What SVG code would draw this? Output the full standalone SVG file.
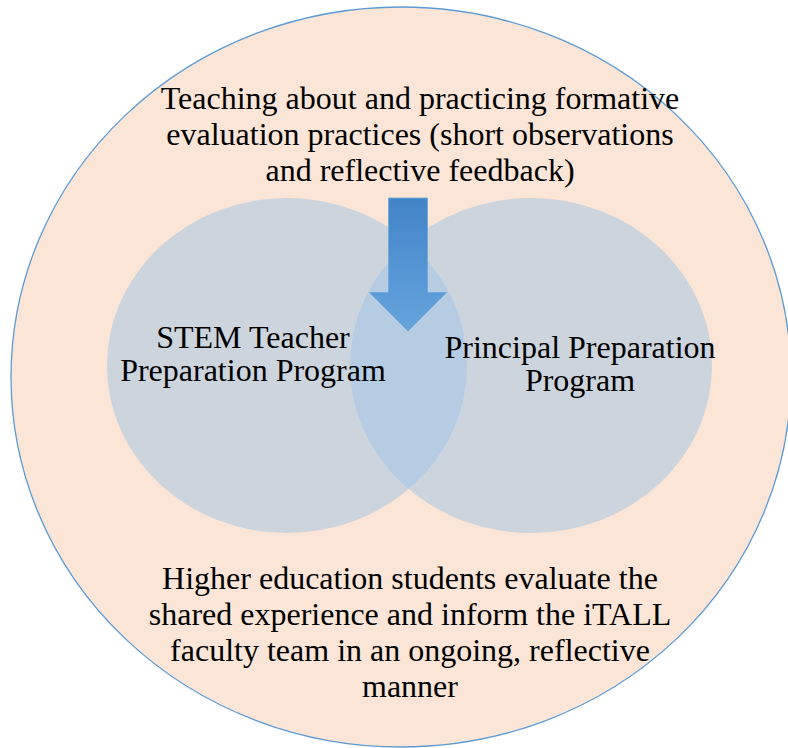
<svg xmlns="http://www.w3.org/2000/svg" width="788" height="748" viewBox="0 0 788 748">
<defs>
<style>
.t{font-family:"Liberation Serif","Times New Roman",serif;font-size:32px;fill:#000;text-anchor:middle}
.set{fill:#9DC3E6;fill-opacity:0.5}
</style>
<linearGradient id="ag" x1="0" y1="0" x2="0" y2="1">
<stop offset="0" stop-color="#4185C7"/>
<stop offset="1" stop-color="#66A3DD"/>
</linearGradient>
</defs>
<rect width="788" height="748" fill="#fff"/>
<g id="outer">
<ellipse cx="401" cy="377" rx="390" ry="370" fill="#FBE5D7" stroke="#5B9BD5" stroke-width="1.3"/>
</g>
<g id="stem">
<ellipse class="set" cx="287" cy="365.5" rx="180" ry="167.5"/>
</g>
<g id="principal">
<ellipse class="set" cx="531" cy="365.5" rx="181" ry="167.5"/>
</g>
<g id="connectors">
<path d="M388.5,198 H427.5 V292.5 H446.5 L408,331 L369.5,292.5 H388.5 Z" fill="url(#ag)" stroke="#6EA7DC" stroke-width="0.8"/>
</g>
<g id="top-label">
<text class="t" x="420" y="109">Teaching about and practicing formative</text>
<text class="t" x="420" y="145">evaluation practices (short observations</text>
<text class="t" x="420" y="181">and reflective feedback)</text>
</g>
<g id="stem-label">
<text class="t" x="253" y="348">STEM Teacher</text>
<text class="t" x="253" y="381">Preparation Program</text>
</g>
<g id="principal-label">
<text class="t" x="580" y="358">Principal Preparation</text>
<text class="t" x="580" y="391">Program</text>
</g>
<g id="bottom-label">
<text class="t" x="410" y="589">Higher education students evaluate the</text>
<text class="t" x="410" y="625">shared experience and inform the iTALL</text>
<text class="t" x="410" y="661">faculty team in an ongoing, reflective</text>
<text class="t" x="410" y="697">manner</text>
</g>
</svg>
